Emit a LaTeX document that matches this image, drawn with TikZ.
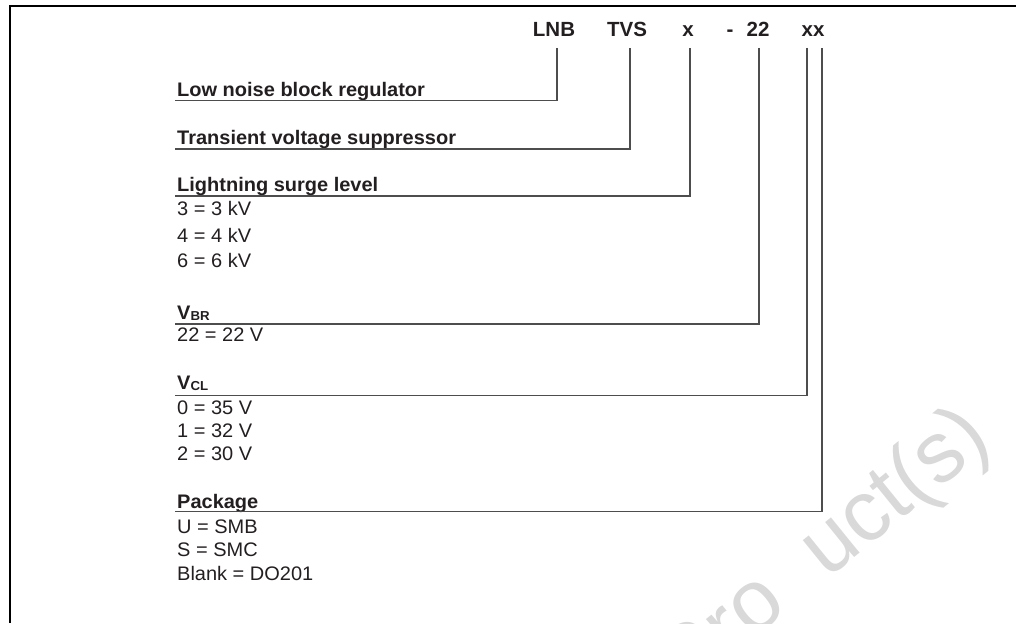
\documentclass[tikz,border=0pt]{standalone}
\usepackage{fontspec}
\setmainfont{Liberation Sans}
\newfontfamily\bodyfont[FakeStretch=1.02]{Liberation Sans}
\newfontfamily\headfont{Liberation Sans}
\definecolor{ink}{HTML}{231F20}
\definecolor{rulecol}{HTML}{4D4D4D}
\definecolor{wmcol}{HTML}{D9D9D9}
\begin{document}
\begin{tikzpicture}[x=1pt,y=-1pt,
  code/.style={anchor=base,inner sep=0pt,text=ink,font=\headfont\bfseries\fontsize{20.5}{24}\selectfont},
  head/.style={anchor=base west,inner sep=0pt,text=ink,font=\bodyfont\bfseries\fontsize{19.6}{23}\selectfont},
  item/.style={anchor=base west,inner sep=0pt,text=ink,font=\bodyfont\fontsize{19.6}{23}\selectfont},
  conn/.style={draw=rulecol,line width=1.3pt},
  frame/.style={draw=black,line width=2pt}]
\useasboundingbox (0,0) rectangle (1016,623);
\clip (0,0) rectangle (1016,623);
% watermark
\node[rotate=39,text=wmcol,inner sep=0pt,font=\fontsize{86}{86}\selectfont] (wm) at (826,552) {Pro\phantom{d}uct(s)};
% frame
\draw[frame] (10,623) -- (10,6) -- (1016,6);
% part number
\node[code] (lnb) at (554,37) {LNB};
\node[code] (tvs) at (627,37) {TVS};
\node[code] (lvl) at (688,37) {x};
\node[code] (dash) at (730,37) {-};
\node[code] (vbr) at (758,37) {22};
\node[code] (pkg) at (813,37) {xx};
% headings
\node[head] (h1) at (177,96) {Low noise block regulator};
\node[head] (h2) at (177,144) {Transient voltage suppressor};
\node[head] (h3) at (177,191.5) {Lightning surge level};
\node[item] (i31) at (177,215.7) {3 = 3 kV};
\node[item] (i32) at (177,242) {4 = 4 kV};
\node[item] (i33) at (177,267) {6 = 6 kV};
\node[head] (h4) at (177,319.3) {V{\fontsize{13}{13}\selectfont\raisebox{-1.5pt}{BR}}};
\node[item] (i41) at (177,341.7) {22 = 22 V};
\node[head] (h5) at (177,389.3) {V{\fontsize{13}{13}\selectfont\raisebox{-1.5pt}{CL}}};
\node[item] (i51) at (177,414) {0 = 35 V};
\node[item] (i52) at (177,437) {1 = 32 V};
\node[item] (i53) at (177,460.5) {2 = 30 V};
\node[head] (h6) at (177,508.3) {Package};
\node[item] (i61) at (177,533) {U = SMB};
\node[item] (i62) at (177,556.5) {S = SMC};
\node[item] (i63) at (177,580) {Blank = DO201};
% line ends
\coordinate (e1) at (175,100.5);
\coordinate (e2) at (175,149);
\coordinate (e3) at (175,196);
\coordinate (e4) at (175,324);
\coordinate (e5) at (175,395.5);
\coordinate (e6) at (175,511.5);
% connectors
\draw[conn] ([xshift=3pt,yshift=-11pt]lnb.base) |- (e1);
\draw[conn] ([xshift=3pt,yshift=-11pt]tvs.base) |- (e2);
\draw[conn] ([xshift=2pt,yshift=-11pt]lvl.base) |- (e3);
\draw[conn] ([xshift=1pt,yshift=-11pt]vbr.base) |- (e4);
\draw[conn] ([xshift=-6pt,yshift=-11pt]pkg.base) |- (e5);
\draw[conn] ([xshift=9pt,yshift=-11pt]pkg.base) |- (e6);
\end{tikzpicture}
\end{document}
